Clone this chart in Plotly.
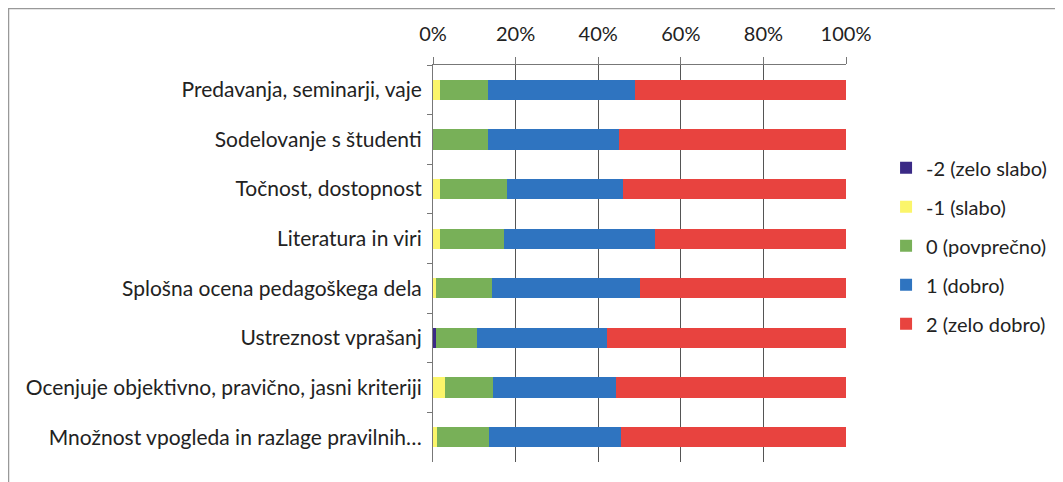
import plotly.graph_objects as go

categories = [
    "Predavanja, seminarji, vaje",
    "Sodelovanje s študenti",
    "Točnost, dostopnost",
    "Literatura in viri",
    "Splošna ocena pedagoškega dela",
    "Ustreznost vprašanj",
    "Ocenjuje objektivno, pravično, jasni kriteriji",
    "Množnost vpogleda in razlage pravilnih…",
]
series_names = ["-2 (zelo slabo)", "-1 (slabo)", "0 (povprečno)", "1 (dobro)", "2 (zelo dobro)"]
v_m2 = [0.0, 0.0, 0.0, 0.0, 0.0, 0.8, 0.0, 0.0]
v_m1 = [1.8, 0.0, 1.8, 1.8, 0.8, 0.0, 3.0, 1.0]
v_0 = [11.4, 13.2, 16.2, 15.4, 13.5, 9.9, 11.6, 12.6]
v_1 = [35.8, 31.9, 28.1, 36.6, 35.7, 31.5, 29.6, 32.0]
v_2 = [51.0, 54.9, 53.9, 46.2, 50.0, 57.8, 55.8, 54.4]
x_ticks = [0, 20, 40, 60, 80, 100]
x_tick_labels = ["0%", "20%", "40%", "60%", "80%", "100%"]

colors = ["#3b2a86", "#fbf56a", "#78b058", "#2f74c0", "#e8433f"]
values = [v_m2, v_m1, v_0, v_1, v_2]

fig = go.Figure()
for name, vals, col in zip(series_names, values, colors):
    fig.add_trace(go.Bar(
        y=categories, x=vals, name=name, orientation="h",
        marker=dict(color=col, line=dict(width=0)),
        legendgroup=name,
    ))

L, R, T, B = 425, 225, 57, 28
PW, PH = 1063 - L - R, 482 - T - B
font_family = "Lato, 'Open Sans', sans-serif"
fig.update_layout(
    width=1063, height=482,
    barmode="stack", bargap=0.59,
    paper_bgcolor="white", plot_bgcolor="white",
    margin=dict(l=L, r=R, t=T, b=B),
    font=dict(family=font_family, size=20, color="#222222"),
    showlegend=True,
    legend=dict(
        x=1.097, y=0.79, xanchor="left", yanchor="top",
        traceorder="grouped", tracegroupgap=10,
        font=dict(size=20, color="#222222"),
        itemwidth=30,
    ),
    xaxis=dict(
        side="top", range=[0, 100], tickvals=x_ticks, ticktext=x_tick_labels,
        showgrid=True, gridcolor="#555555", gridwidth=1,
        showline=True, linecolor="#777777", linewidth=1,
        ticks="outside", ticklen=7, tickcolor="#777777",
        ticklabelstandoff=8,
        zeroline=False, fixedrange=True,
    ),
    yaxis=dict(
        autorange="reversed", showgrid=False,
        showline=True, linecolor="#777777", linewidth=1,
        ticks="outside", ticklen=5, tickcolor="#777777", tickson="boundaries",
        ticklabelstandoff=6, tickfont=dict(size=21),
    ),
)
# outer chart frame (top and left edges visible)
fig.add_shape(type="line", xref="paper", yref="paper",
              x0=(0.5 - L) / PW, x1=(1063 - L) / PW, y0=1 + (T - 0.5) / PH, y1=1 + (T - 0.5) / PH,
              line=dict(color="#999999", width=1.5))
fig.add_shape(type="line", xref="paper", yref="paper",
              x0=(0.5 - L) / PW, x1=(0.5 - L) / PW, y0=-B / PH, y1=1 + T / PH,
              line=dict(color="#999999", width=1.5))

fig.write_html("out.html")
